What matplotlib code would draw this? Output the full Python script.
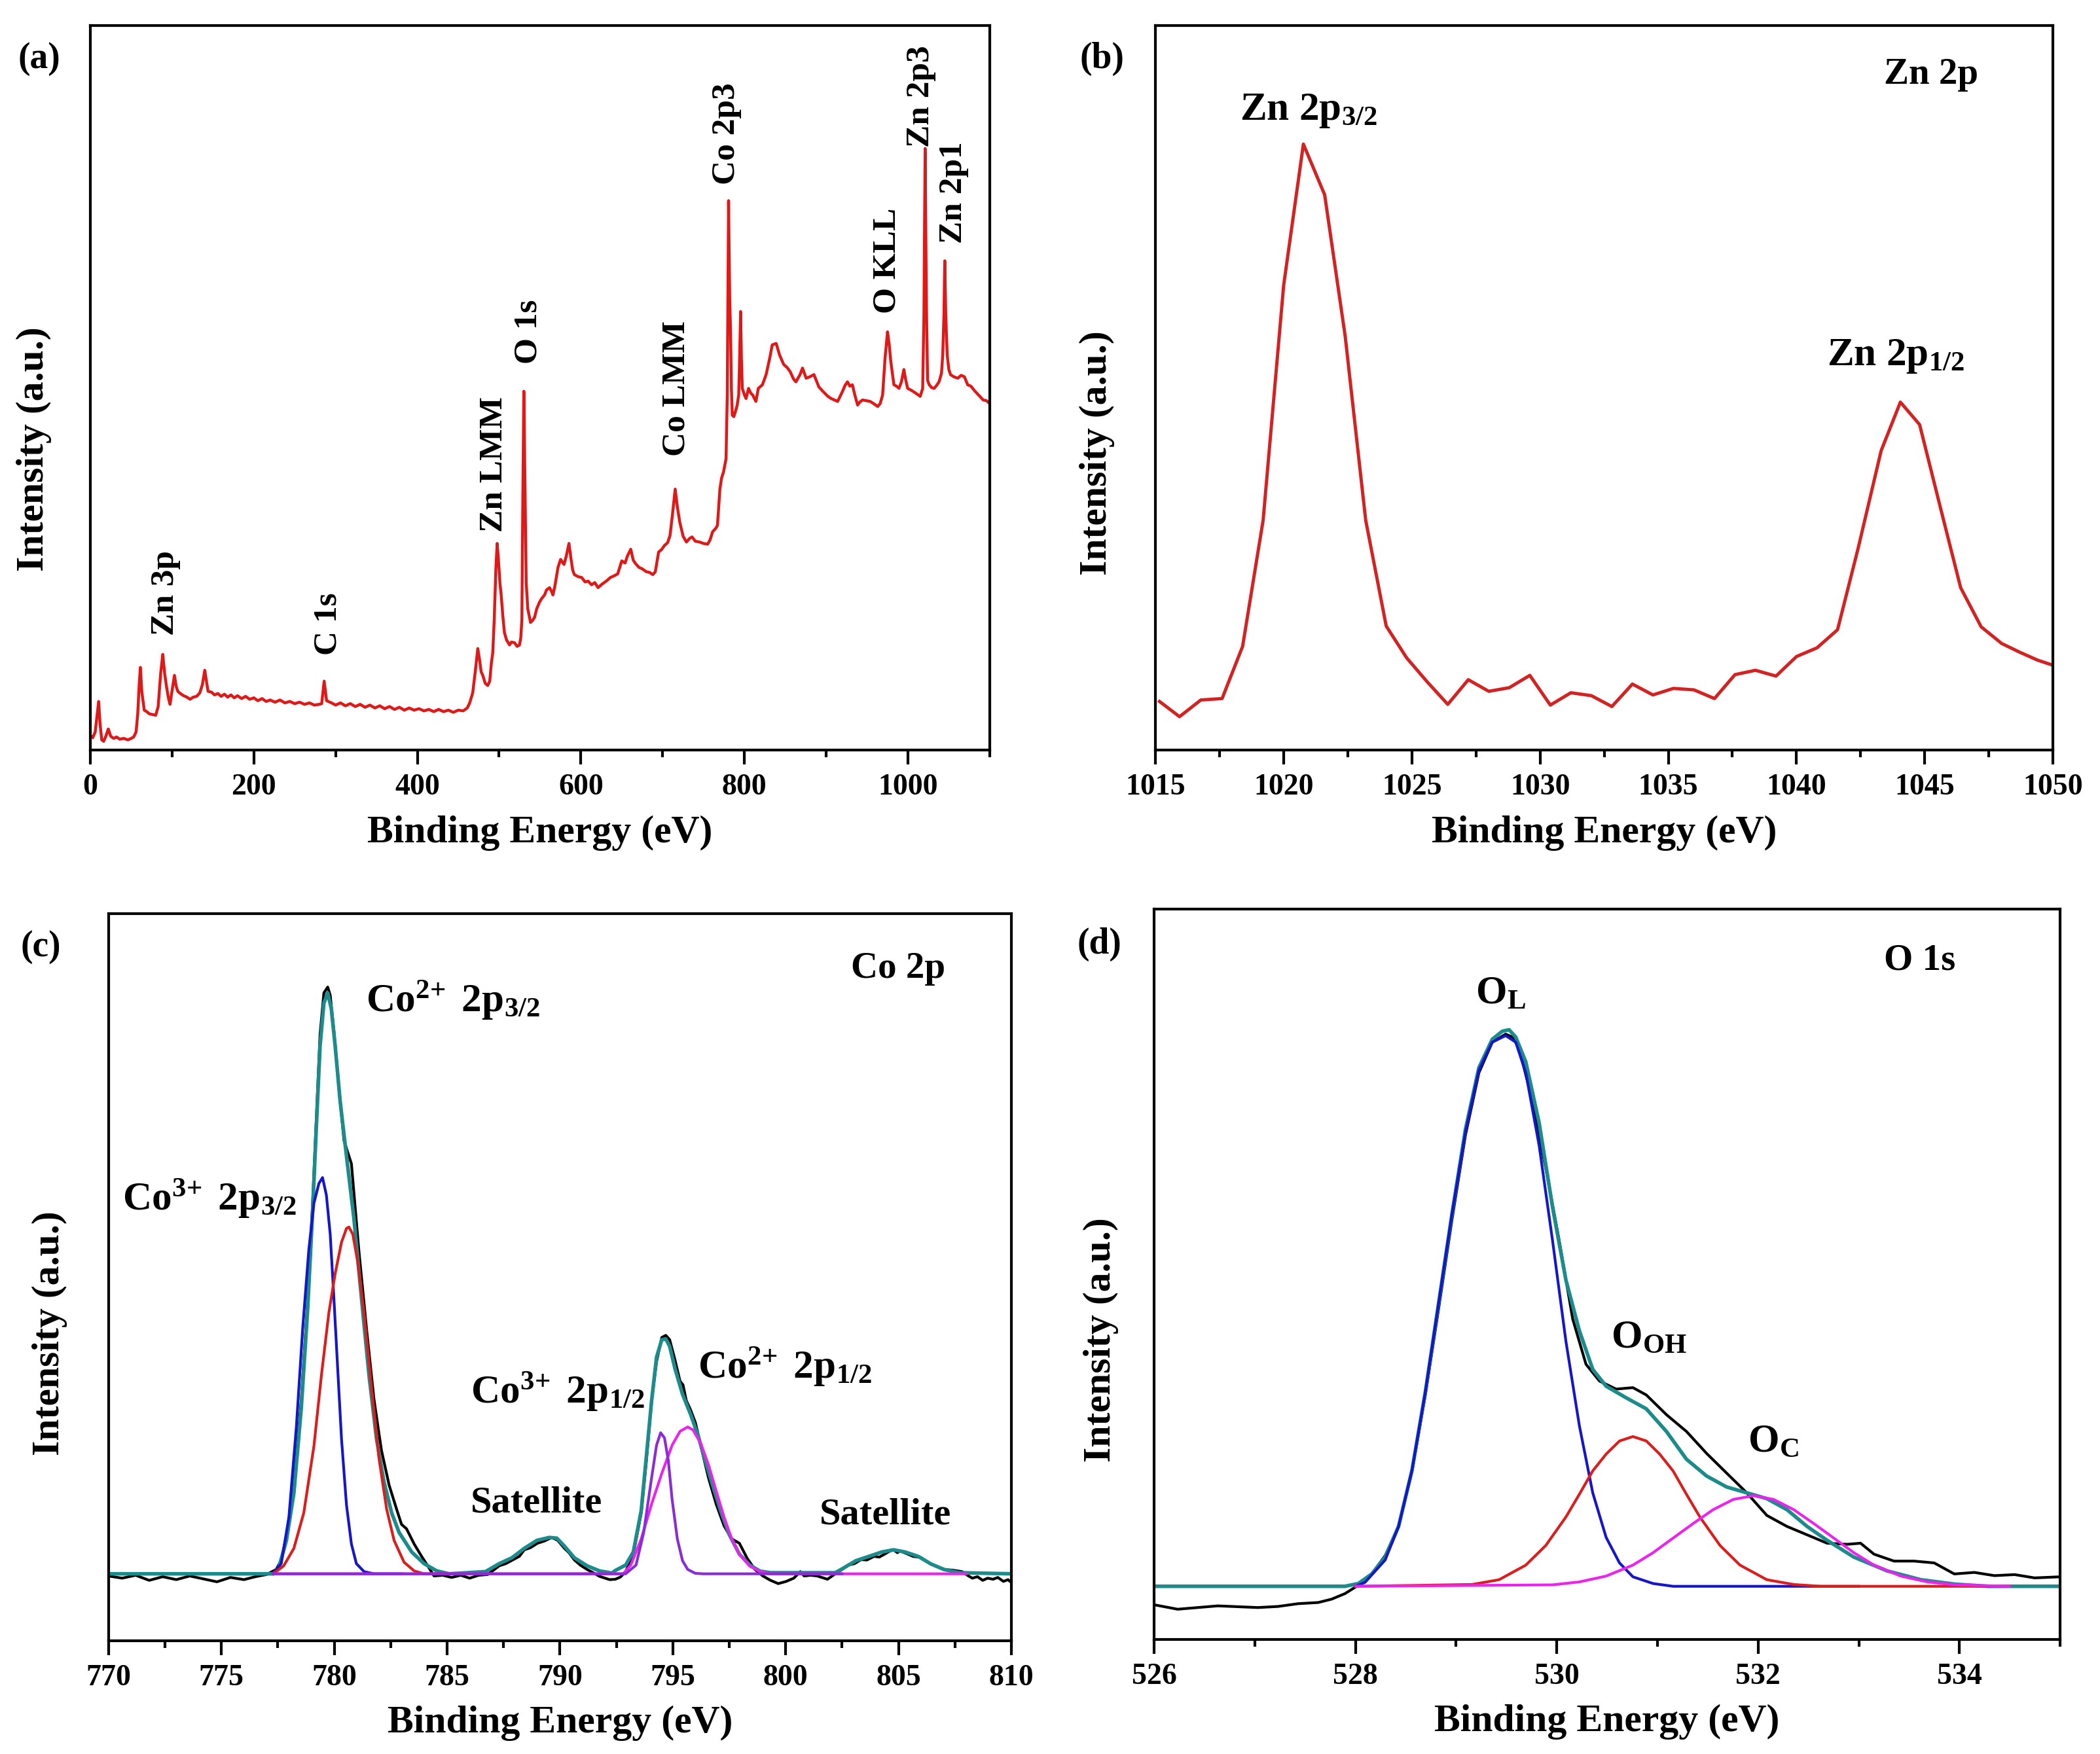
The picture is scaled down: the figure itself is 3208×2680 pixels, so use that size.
import matplotlib
matplotlib.use('Agg')
import matplotlib.pyplot as plt
from matplotlib.ticker import MultipleLocator

# ---------------- data ----------------
# (a) survey spectrum: (binding energy eV, intensity a.u.)
survey = [
    (0, 2.0), (3, 1.7), (6, 2.5), (8, 4.5), (10.2, 6.7), (12, 3.5), (14, 1.4), (16.3, 1.2),
    (19, 1.9), (22, 2.9), (25, 1.9), (28.6, 1.6), (32, 1.8), (36, 1.5), (41, 1.6), (46, 1.4),
    (50, 1.6), (53, 1.8), (56, 2.5), (58, 5.0), (60, 9.5), (61.3, 11.4), (63, 8.0), (66, 5.5),
    (69, 5.3), (72, 5.0), (76, 4.9), (80, 4.8), (83, 6.0), (86, 10.5), (88.6, 13.2), (91, 10.5),
    (93, 8.9), (95.5, 7.2), (97.5, 6.3), (100, 8.2), (102.9, 10.3), (105, 8.8), (107, 8.1),
    (110, 7.8), (114, 7.5), (118, 7.3), (122, 7.0), (126, 7.3), (130, 7.4), (134, 7.9),
    (137, 9.0), (140, 11.0), (142, 9.5), (144, 8.1), (148, 8.0), (152, 7.6), (156, 7.8),
    (160, 7.4), (164, 7.7), (168, 7.3), (172, 7.6), (176, 7.2), (180, 7.5), (185, 7.1),
    (190, 7.4), (195, 7.0), (200, 7.2), (205, 6.8), (210, 7.1), (215, 6.7), (220, 6.9),
    (226, 6.6), (232, 6.9), (238, 6.5), (244, 6.7), (250, 6.4), (256, 6.6), (262, 6.3),
    (268, 6.5), (274, 6.2), (280, 6.3), (283, 6.4), (286, 9.5), (289, 6.8), (295, 6.5),
    (300, 6.2), (306, 6.5), (312, 6.1), (318, 6.4), (324, 6.0), (330, 6.3), (336, 5.9),
    (342, 6.2), (348, 5.8), (354, 6.1), (360, 5.7), (366, 6.0), (372, 5.6), (378, 5.9),
    (384, 5.5), (390, 5.8), (396, 5.5), (402, 5.7), (408, 5.4), (414, 5.6), (420, 5.3),
    (426, 5.6), (432, 5.3), (438, 5.5), (444, 5.2), (450, 5.5), (456, 5.4), (461, 5.8),
    (464, 6.5), (467.7, 7.9), (471, 11.0), (473.9, 14.0), (476, 12.5), (478, 10.8),
    (480, 10.3), (483, 9.2), (486, 8.9), (488.5, 9.5), (490.5, 12.0), (492.2, 13.4),
    (494, 18.0), (496, 25.0), (497.6, 28.5), (499, 26.5), (501, 23.0), (502.5, 21.4),
    (504.5, 18.5), (506.5, 16.2), (509, 15.2), (512.7, 14.5), (515, 14.9), (518.8, 14.8),
    (522, 14.3), (524.9, 14.5), (526.5, 15.5), (527.8, 18.0), (529, 35.0), (530.2, 49.5),
    (531.5, 38.0), (533.1, 23.1), (535, 19.5), (538.4, 17.6), (541, 17.9), (543.3, 18.3),
    (546, 19.5), (549.4, 20.4), (552, 20.9), (555.6, 21.4), (558, 22.1), (561.7, 22.4),
    (564, 21.9), (565.8, 21.4), (568, 22.5), (569.9, 23.8), (572, 25.2), (575.2, 26.3),
    (577, 26.0), (579.3, 25.6), (582, 26.7), (585.4, 28.5), (588, 26.3), (590, 24.8),
    (592, 24.2), (597, 23.9), (601, 23.8), (605, 23.2), (609, 23.3), (613, 22.8),
    (617, 23.1), (621, 22.4), (626, 22.9), (631, 23.3), (636, 23.8), (640, 24.0),
    (645, 24.3), (650, 26.1), (654, 25.8), (657, 26.8), (661, 27.7), (664, 26.2),
    (667, 25.7), (671, 25.2), (675, 25.0), (680, 24.6), (684, 24.5), (688, 24.2),
    (691, 24.6), (695, 27.3), (699, 27.7), (702, 28.2), (706, 28.6), (709, 29.6),
    (712, 32.5), (715.3, 36.0), (718, 33.5), (721, 31.4), (725, 29.5), (729, 28.7),
    (733, 29.2), (736, 29.4), (740, 28.8), (745, 28.7), (750, 28.5), (755, 28.4),
    (758, 29.0), (761, 30.1), (765, 30.6), (767, 31.0), (770, 36.0), (772, 37.5),
    (774.5, 38.4), (777.5, 40.2), (779, 49.0), (780.6, 75.8), (782, 62.0), (783, 58.2),
    (784, 50.0), (785.2, 46.2), (787, 46.0), (789, 46.7), (791, 47.5), (793, 49.0),
    (794.3, 55.0), (795.3, 60.5), (796.3, 54.0), (797.4, 49.9), (800, 49.0), (802, 48.5),
    (805, 49.9), (808, 49.2), (810, 49.0), (814, 48.1), (817, 49.9), (822, 50.4),
    (826.5, 51.8), (831, 54.1), (834, 55.9), (838.8, 56.1), (843, 54.5), (848, 53.2),
    (852, 52.8), (856, 52.2), (860, 51.2), (863, 50.8), (868, 51.8), (871, 52.7),
    (875.5, 51.3), (880, 51.5), (885, 51.8), (891, 50.1), (895, 49.6), (898.5, 49.2),
    (902, 48.8), (906, 48.5), (910, 48.3), (914, 48.1), (917, 48.8), (920, 49.5),
    (923, 50.3), (926, 50.8), (929, 50.2), (932, 50.4), (935, 49.0), (938.4, 47.6),
    (941, 48.0), (944.5, 48.3), (949, 48.2), (953.7, 48.1), (958, 47.8), (963, 47.4),
    (966, 47.8), (969, 49.0), (972, 54.1), (975, 57.7), (977, 56.0), (979, 53.6),
    (982.8, 50.4), (986, 50.2), (989, 49.9), (992, 50.8), (995, 52.5), (997, 51.2),
    (999.6, 49.9), (1003, 49.7), (1006, 49.5), (1010, 49.2), (1015, 48.8), (1018, 49.9),
    (1019.5, 60.0), (1021, 83.0), (1022.5, 62.0), (1024, 51.0), (1026, 50.4), (1029, 50.0),
    (1032, 49.9), (1035, 50.3), (1038, 50.8), (1041, 52.0), (1042.5, 54.5), (1044, 60.0),
    (1045, 67.5), (1046.2, 60.0), (1048, 54.5), (1050, 52.5), (1052, 51.8), (1056, 51.5),
    (1061, 51.3), (1065, 51.7), (1069, 51.5), (1073, 50.4), (1077, 50.2), (1082, 49.5),
    (1087, 48.9), (1092, 48.3), (1096, 48.2), (1100, 47.8),
]
survey_labels = ["Zn 3p", "C 1s", "Zn LMM", "O 1s", "Co LMM", "Co 2p3", "O KLL", "Zn 2p3", "Zn 2p1"]
survey_label_pos = [(92, 15.8), (291, 13.1), (494, 30.1), (536, 53.3), (717, 40.5),
                    (778, 78.0), (975, 60.2), (1016, 83.2), (1056, 69.9)]

# (b) Zn 2p
zn2p = [
    (1015.16, 6.7), (1015.94, 4.6), (1016.77, 6.9), (1017.6, 7.1), (1018.4, 14.3),
    (1019.2, 31.7), (1020.0, 64.1), (1020.77, 83.6), (1021.6, 76.6), (1022.4, 57.1),
    (1023.2, 31.7), (1024.0, 17.1), (1024.8, 12.7), (1025.6, 9.4), (1026.4, 6.3),
    (1027.2, 9.7), (1028.0, 8.1), (1028.8, 8.6), (1029.6, 10.3), (1030.4, 6.2),
    (1031.2, 7.9), (1032.0, 7.5), (1032.8, 6.0), (1033.6, 9.1), (1034.4, 7.6),
    (1035.2, 8.5), (1036.0, 8.3), (1036.8, 7.1), (1037.6, 10.4), (1038.4, 11.0),
    (1039.2, 10.2), (1040.0, 12.9), (1040.8, 14.1), (1041.6, 16.6), (1042.4, 27.8),
    (1043.3, 41.3), (1044.05, 48.0), (1044.8, 44.9), (1045.6, 33.6), (1046.4, 22.4),
    (1047.2, 17.0), (1048.0, 14.7), (1048.7, 13.5), (1049.4, 12.4), (1050.0, 11.7),
]

# (c) Co 2p
co_raw = [
    (770.0, -0.3), (770.6, -0.6), (771.2, -0.2), (771.8, -0.9), (772.4, -0.4), (773.0, -0.8),
    (773.6, -0.3), (774.2, -0.7), (774.8, -1.1), (775.4, -0.5), (776.0, -0.8), (776.5, -0.4),
    (777.0, -0.1), (777.43, 0.6), (777.65, 1.9), (777.88, 5.2), (778.21, 12.2), (778.54, 24.0),
    (778.82, 37.5), (779.04, 51.0), (779.21, 62.9), (779.37, 74.2), (779.54, 79.9),
    (779.71, 80.7), (779.82, 79.6), (779.98, 74.8), (780.21, 66.7), (780.43, 59.6),
    (780.76, 56.4), (781.09, 44.5), (781.43, 33.7), (781.76, 24.0), (782.09, 17.0),
    (782.43, 12.2), (782.76, 8.9), (782.98, 6.8), (783.2, 6.2), (783.54, 4.1), (783.87, 2.4),
    (784.2, 0.8), (784.42, -0.3), (784.8, -0.2), (785.2, -0.5), (785.6, -0.2), (786.0, -0.6),
    (786.4, -0.2), (786.8, -0.1), (787.31, 1.1), (787.6, 1.4), (787.9, 1.9), (788.2, 2.4),
    (788.42, 3.3), (788.7, 3.6), (789.0, 4.2), (789.3, 4.5), (789.64, 5.0), (789.9, 4.6),
    (790.2, 3.5), (790.4, 2.9), (790.64, 1.9), (790.9, 1.2), (791.2, 0.6), (791.5, 0.1),
    (791.75, -0.35), (792.2, -0.8), (792.45, -0.75), (792.68, -0.45), (792.91, 0.3),
    (793.25, 2.7), (793.6, 8.4), (793.83, 15.6), (794.06, 23.8), (794.28, 29.2),
    (794.51, 32.5), (794.69, 32.8), (794.86, 32.2), (795.09, 29.5), (795.32, 26.5),
    (795.45, 26.0), (795.6, 23.8), (795.78, 22.6), (796.0, 20.8), (796.23, 17.75),
    (796.58, 13.2), (796.92, 9.6), (797.27, 6.6), (797.61, 4.8), (797.95, 4.2), (798.3, 2.1),
    (798.64, 0.6), (798.99, -0.3), (799.33, -0.9), (799.67, -1.35), (800.02, -1.05),
    (800.36, -0.6), (800.65, 0.3), (800.82, -0.3), (801.1, -0.2), (801.4, -0.3),
    (801.85, -0.75), (802.2, 0.0), (802.5, 0.6), (802.77, 1.2), (803.05, 1.4), (803.34, 1.95),
    (803.6, 1.9), (803.92, 2.4), (804.15, 2.3), (804.38, 2.7), (804.6, 3.1), (804.78, 3.3),
    (804.95, 2.9), (805.06, 3.15), (805.35, 2.8), (805.64, 2.4), (805.98, 2.25), (806.2, 1.8),
    (806.44, 1.35), (806.7, 1.0), (807.01, 0.6), (807.4, 0.5), (807.82, 0.3), (808.05, -0.2),
    (808.27, -0.6), (808.5, -0.4), (808.73, -0.9), (808.95, -0.6), (809.19, -0.75),
    (809.4, -0.5), (809.65, -1.05), (809.85, -0.8), (810.0, -1.2),
]
co_env = [
    (770.0, 0.0), (777.3, 0.0), (777.54, 0.83), (777.88, 4.6), (778.21, 11.1), (778.54, 22.9),
    (778.82, 36.4), (779.04, 49.9), (779.21, 61.8), (779.37, 72.6), (779.54, 78.5),
    (779.71, 79.9), (779.87, 77.7), (780.04, 72.6), (780.26, 65.0), (780.54, 57.5),
    (780.87, 48.9), (781.2, 38.1), (781.54, 27.3), (781.87, 18.6), (782.2, 12.7),
    (782.54, 8.4), (782.87, 5.7), (783.43, 3.0), (783.98, 1.4), (784.54, 0.4), (785.09, 0.0),
    (786.7, 0.3), (787.31, 1.4), (787.87, 2.2), (788.42, 3.5), (788.98, 4.6), (789.53, 5.0),
    (789.86, 4.9), (790.2, 3.8), (790.64, 2.2), (791.2, 1.1), (791.75, 0.4), (792.3, 0.1),
    (792.45, 0.45), (792.91, 1.2), (793.25, 3.0), (793.6, 8.7), (793.83, 16.2), (794.06, 23.8),
    (794.28, 29.8), (794.51, 32.2), (794.69, 32.3), (794.86, 31.3), (795.09, 28.3),
    (795.43, 24.7), (795.78, 22.0), (796.12, 19.0), (796.46, 15.3), (796.81, 11.7),
    (797.15, 8.4), (797.5, 5.4), (797.95, 2.7), (798.41, 1.2), (798.87, 0.36), (799.33, 0.15),
    (802.2, 0.15), (802.54, 0.75), (803.11, 1.8), (803.69, 2.4), (804.26, 3.0), (804.78, 3.3),
    (805.29, 3.0), (805.87, 2.4), (806.44, 1.35), (807.01, 0.6), (807.7, 0.15), (810.0, 0.0),
]
co3_2p32 = [
    (777.3, 0.0), (777.65, 1.4), (777.99, 7.8), (778.32, 20.2), (778.6, 33.7), (778.87, 44.5),
    (779.1, 51.0), (779.32, 53.7), (779.48, 54.5), (779.65, 52.1), (779.82, 46.7),
    (779.98, 38.1), (780.15, 28.3), (780.32, 18.6), (780.54, 9.5), (780.76, 4.1),
    (780.98, 1.4), (781.32, 0.3), (781.76, 0.0), (783.0, 0.0),
]
co2_2p32 = [
    (777.3, 0.0), (777.76, 1.1), (778.21, 3.5), (778.65, 8.4), (779.1, 17.6), (779.43, 27.3),
    (779.76, 35.9), (780.04, 41.3), (780.32, 45.6), (780.54, 47.5), (780.65, 47.7),
    (780.82, 46.7), (781.04, 42.9), (781.32, 35.9), (781.65, 25.7), (781.98, 15.9),
    (782.32, 8.9), (782.65, 4.6), (783.09, 1.6), (783.54, 0.4), (783.98, 0.0), (785.0, 0.0),
]
co3_2p12 = [
    (777.3, 0.0), (792.91, 0.0), (793.37, 1.2), (793.71, 5.7), (794.06, 13.2), (794.28, 17.7),
    (794.46, 19.4), (794.63, 18.7), (794.8, 15.6), (794.97, 10.2), (795.2, 4.8),
    (795.43, 1.8), (795.66, 0.6), (796.0, 0.06), (796.35, 0.0), (802.5, 0.0),
]
co2_2p12 = [
    (777.3, 0.0), (792.8, 0.0), (793.14, 1.2), (793.6, 4.8), (794.06, 9.6), (794.51, 13.8),
    (794.97, 17.7), (795.32, 19.6), (795.66, 20.2), (795.89, 19.8), (796.23, 18.0),
    (796.58, 15.0), (796.92, 11.4), (797.27, 7.8), (797.61, 4.8), (797.95, 2.7),
    (798.41, 1.05), (798.87, 0.3), (799.33, 0.0), (808.0, 0.0),
]

# (d) O 1s
o_raw = [
    (526.0, -2.53), (526.233, -3.14), (526.632, -2.68), (527.031, -2.91), (527.231, -2.76),
    (527.43, -2.38), (527.63, -2.22), (527.763, -1.76), (527.896, -1.0), (528.029, 0.15),
    (528.162, 1.69), (528.295, 4.2), (528.428, 8.2), (528.561, 15.7), (528.694, 26.2),
    (528.827, 38.1), (528.96, 50.3), (529.093, 61.8), (529.226, 70.3), (529.359, 74.5),
    (529.492, 75.6), (529.559, 75.2), (529.625, 73.7), (529.758, 66.4), (529.891, 57.2),
    (530.024, 47.3), (530.158, 36.6), (530.29, 30.4), (530.424, 28.1), (530.59, 27.0),
    (530.756, 27.2), (530.889, 26.2), (531.089, 23.5), (531.288, 21.2), (531.488, 18.2),
    (531.687, 15.5), (531.887, 12.8), (532.087, 9.7), (532.286, 8.2), (532.486, 7.05),
    (532.685, 5.9), (532.885, 5.75), (533.018, 5.9), (533.151, 4.4), (533.35, 3.45),
    (533.55, 3.45), (533.749, 3.2), (533.949, 1.69), (534.148, 1.9), (534.348, 1.46),
    (534.548, 1.6), (534.747, 1.15), (535.0, 1.3),
]
o_env = [
    (526.0, 0.0), (527.896, 0.0), (528.029, 0.38), (528.162, 1.69), (528.295, 3.98),
    (528.428, 8.2), (528.561, 15.86), (528.694, 26.6), (528.827, 38.85), (528.96, 51.1),
    (529.093, 62.6), (529.226, 71.0), (529.359, 74.9), (529.459, 76.0), (529.526, 76.2),
    (529.592, 75.2), (529.692, 71.8), (529.825, 63.4), (529.958, 51.9), (530.091, 41.9),
    (530.224, 35.0), (530.357, 29.7), (530.49, 27.4), (530.69, 25.8), (530.889, 24.3),
    (531.089, 21.2), (531.288, 17.4), (531.488, 15.1), (531.687, 13.6), (531.887, 12.8),
    (532.087, 12.0), (532.286, 10.5), (532.486, 8.2), (532.685, 6.3), (532.951, 4.0),
    (533.284, 2.1), (533.617, 0.9), (533.949, 0.3), (534.282, 0.0), (535.0, 0.0),
]
o_lattice = [
    (528.0, 0.0), (528.095, 0.54), (528.295, 3.6), (528.428, 8.2), (528.561, 15.86),
    (528.694, 26.6), (528.827, 38.85), (528.96, 51.1), (529.093, 62.2), (529.226, 70.65),
    (529.359, 74.5), (529.492, 75.4), (529.592, 74.5), (529.692, 70.3), (529.825, 60.3),
    (529.958, 47.3), (530.091, 33.5), (530.224, 22.0), (530.357, 12.8), (530.49, 6.7),
    (530.623, 3.2), (530.756, 1.3), (530.956, 0.38), (531.155, 0.0), (533.0, 0.0),
]
o_hydroxyl = [
    (528.0, 0.0), (529.16, 0.25), (529.426, 0.9), (529.692, 2.9), (529.891, 5.6),
    (530.091, 9.5), (530.224, 12.6), (530.357, 15.8), (530.49, 18.1), (530.623, 19.9),
    (530.756, 20.5), (530.889, 19.9), (531.022, 18.1), (531.155, 15.8), (531.288, 12.6),
    (531.421, 9.5), (531.621, 5.6), (531.82, 2.9), (532.087, 0.9), (532.353, 0.25),
    (532.619, 0.0), (534.5, 0.0),
]
o_carbon = [
    (528.0, 0.0), (529.958, 0.2), (530.224, 0.6), (530.49, 1.4), (530.756, 2.9),
    (530.956, 4.6), (531.155, 6.6), (531.355, 8.6), (531.554, 10.5), (531.754, 11.9),
    (531.953, 12.4), (532.153, 11.9), (532.353, 10.5), (532.552, 8.6), (532.752, 6.6),
    (532.951, 4.6), (533.151, 2.9), (533.417, 1.4), (533.683, 0.6), (533.949, 0.2),
    (534.5, 0.0),
]

# ---------------- style ----------------
plt.rcParams['font.family'] = ['Liberation Serif', 'DejaVu Serif']
plt.rcParams['font.weight'] = 'bold'
plt.rcParams['mathtext.fontset'] = 'custom'
plt.rcParams['mathtext.rm'] = 'Liberation Serif:bold'
plt.rcParams['mathtext.it'] = 'Liberation Serif:bold'
plt.rcParams['mathtext.bf'] = 'Liberation Serif:bold'
plt.rcParams['axes.linewidth'] = 1.5

TICK_FS = 16.5
LABEL_FS = 21.5
PEAK_FS = 22
CORNER_FS = 20.5
SURVEY_FS = 18.5

C_TEAL = '#1C8B8B'
C_BLUE = '#1515CC'
C_RED = '#DD1C1C'
C_PURPLE = '#8A2BD8'
C_MAGENTA = '#EE22EE'


def xy(pts):
    return [p[0] for p in pts], [p[1] for p in pts]


def style_axes(ax, major, minor, xlim, ylim, ylab_pos, xlab_y):
    ax.set_xlim(*xlim)
    ax.set_ylim(*ylim)
    ax.set_yticks([])
    ax.xaxis.set_major_locator(MultipleLocator(major))
    ax.xaxis.set_minor_locator(MultipleLocator(minor))
    ax.tick_params(axis='x', which='major', direction='out', length=8, width=1.5,
                   labelsize=TICK_FS, pad=5)
    ax.tick_params(axis='x', which='minor', direction='out', length=4, width=1.5)
    ax.set_xlabel('Binding Energy (eV)', fontsize=LABEL_FS, fontweight='bold', va='center')
    ax.xaxis.set_label_coords(0.5, xlab_y)
    ax.set_ylabel('Intensity (a.u.)', fontsize=LABEL_FS, fontweight='bold', va='center')
    ax.yaxis.set_label_coords(*ylab_pos)
    for s in ax.spines.values():
        s.set_linewidth(1.5)


fig = plt.figure(figsize=(16.04, 13.4), dpi=200)
ax_a = fig.add_axes([0.0430, 0.5724, 0.4283, 0.4132])
ax_b = fig.add_axes([0.5502, 0.5724, 0.4274, 0.4132])
ax_c = fig.add_axes([0.0517, 0.0646, 0.4299, 0.4145])
ax_d = fig.add_axes([0.5496, 0.0653, 0.4314, 0.4164])

# (a)
x, y = xy(survey)
ax_a.plot(x, y, color='#E01818', lw=1.6)
for lab, (lx, ly) in zip(survey_labels, survey_label_pos):
    ax_a.text(lx, ly, lab, rotation=90, ha='center', va='bottom', fontsize=SURVEY_FS, fontweight='bold')
style_axes(ax_a, 200, 100, (0, 1100), (0, 100), (-0.063, 0.415), -0.115)

# (b)
x, y = xy(zn2p)
ax_b.plot(x, y, color='#D42222', lw=1.8)
ax_b.text(1018.3, 87.0, 'Zn 2p$_{3/2}$', fontsize=PEAK_FS, fontweight='bold', ha='left', va='baseline')
ax_b.text(1041.2, 53.1, 'Zn 2p$_{1/2}$', fontsize=PEAK_FS, fontweight='bold', ha='left', va='baseline')
ax_b.text(1043.4, 91.9, 'Zn 2p', fontsize=CORNER_FS, fontweight='bold', ha='left', va='baseline')
style_axes(ax_b, 5, 2.5, (1015, 1050), (0, 100), (-0.065, 0.41), -0.115)

# (c)
x, y = xy(co_raw)
ax_c.plot(x, y, color='black', lw=1.5)
x, y = xy(co_env)
ax_c.plot(x, y, color=C_TEAL, lw=2.0)
x, y = xy(co3_2p32)
ax_c.plot(x, y, color=C_BLUE, lw=1.5)
x, y = xy(co2_2p32)
ax_c.plot(x, y, color=C_RED, lw=1.5)
x, y = xy(co2_2p12)
ax_c.plot(x, y, color=C_MAGENTA, lw=1.5)
x, y = xy(co3_2p12)
ax_c.plot(x, y, color=C_PURPLE, lw=1.5)
ax_c.text(802.9, 82.0, 'Co 2p', fontsize=CORNER_FS, fontweight='bold', ha='left', va='baseline')
ax_c.text(781.4, 77.3, 'Co$^{2\\!+}$ 2p$_{3/2}$', fontsize=PEAK_FS, fontweight='bold', ha='left', va='baseline')
ax_c.text(770.6, 50.0, 'Co$^{3\\!+}$ 2p$_{3/2}$', fontsize=PEAK_FS, fontweight='bold', ha='left', va='baseline')
ax_c.text(786.05, 23.5, 'Co$^{3\\!+}$ 2p$_{1/2}$', fontsize=PEAK_FS, fontweight='bold', ha='left', va='baseline')
ax_c.text(796.1, 26.9, 'Co$^{2\\!+}$ 2p$_{1/2}$', fontsize=PEAK_FS, fontweight='bold', ha='left', va='baseline')
ax_c.text(786.05, 8.45, 'Satellite', fontsize=21, fontweight='bold', ha='left', va='baseline')
ax_c.text(801.5, 6.9, 'Satellite', fontsize=21, fontweight='bold', ha='left', va='baseline')
style_axes(ax_c, 5, 2.5, (770, 810), (-9.2, 90.8), (-0.065, 0.423), -0.113)

# (d)
x, y = xy(o_raw)
ax_d.plot(x, y, color='black', lw=1.5)
x, y = xy(o_env)
ax_d.plot(x, y, color=C_TEAL, lw=2.0)
x, y = xy(o_lattice)
ax_d.plot(x, y, color=C_BLUE, lw=1.5)
x, y = xy(o_hydroxyl)
ax_d.plot(x, y, color=C_RED, lw=1.5)
x, y = xy(o_carbon)
ax_d.plot(x, y, color=C_MAGENTA, lw=1.5)
ax_d.text(533.25, 84.4, 'O 1s', fontsize=CORNER_FS, fontweight='bold', ha='left', va='baseline')
ax_d.text(529.19, 79.8, 'O$_{\\mathrm{L}}$', fontsize=PEAK_FS, fontweight='bold', ha='left', va='baseline')
ax_d.text(530.54, 32.7, 'O$_{\\mathrm{OH}}$', fontsize=PEAK_FS, fontweight='bold', ha='left', va='baseline')
ax_d.text(531.9, 18.5, 'O$_{\\mathrm{C}}$', fontsize=PEAK_FS, fontweight='bold', ha='left', va='baseline')
style_axes(ax_d, 2, 1, (526, 535), (-7.28, 92.72), (-0.059, 0.41), -0.113)

# panel letters
fig.text(0.0087, 0.9664, '(a)', fontsize=20, fontweight='bold', ha='left', va='center')
fig.text(0.5143, 0.9664, '(b)', fontsize=20, fontweight='bold', ha='left', va='center')
fig.text(0.0097, 0.4600, '(c)', fontsize=20, fontweight='bold', ha='left', va='center')
fig.text(0.5128, 0.4616, '(d)', fontsize=20, fontweight='bold', ha='left', va='center')

fig.savefig('out.png', dpi=200)
